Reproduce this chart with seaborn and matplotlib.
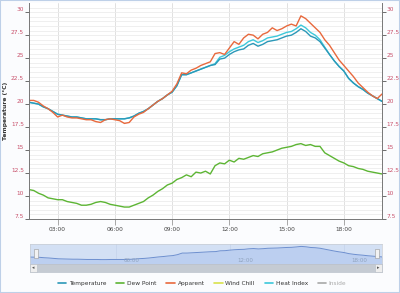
import numpy as np
import pandas as pd
import seaborn as sns
import matplotlib.pyplot as plt
from matplotlib.lines import Line2D
from matplotlib.patches import Rectangle

# 15-minute readings from 01:30 to 20:00
hours = np.arange(1.5, 20.01, 0.25)

temperature = [20.2, 20.1, 20.0, 19.7, 19.5, 19.2, 18.9, 18.8, 18.7, 18.6,
               18.6, 18.5, 18.4, 18.4, 18.4, 18.3, 18.3, 18.4, 18.4, 18.4,
               18.4, 18.5, 18.7, 19.0, 19.2, 19.5, 19.9, 20.3, 20.6, 21.0,
               21.3, 22.0, 23.2, 23.2, 23.4, 23.6, 23.8, 24.0, 24.2, 24.3,
               24.9, 25.0, 25.4, 25.7, 25.9, 26.0, 26.4, 26.6, 26.3, 26.5,
               26.8, 26.9, 27.0, 27.2, 27.4, 27.5, 27.8, 28.2, 27.9, 27.4,
               27.2, 26.8, 26.1, 25.4, 24.7, 24.1, 23.6, 22.8, 22.3, 21.9,
               21.6, 21.2, 20.9, 20.6, 20.3]

heat_index = [20.2, 20.1, 20.0, 19.7, 19.5, 19.2, 18.9, 18.8, 18.7, 18.6,
              18.6, 18.5, 18.4, 18.4, 18.4, 18.3, 18.3, 18.4, 18.4, 18.4,
              18.4, 18.5, 18.7, 19.0, 19.2, 19.5, 19.9, 20.3, 20.6, 21.0,
              21.3, 22.0, 23.2, 23.2, 23.4, 23.6, 23.8, 24.0, 24.2, 24.4,
              25.1, 25.3, 25.7, 26.0, 26.2, 26.4, 26.8, 27.0, 26.7, 26.9,
              27.2, 27.3, 27.4, 27.6, 27.8, 27.9, 28.2, 28.6, 28.3, 27.8,
              27.5, 27.0, 26.2, 25.4, 24.7, 24.1, 23.6, 22.8, 22.3, 21.9,
              21.6, 21.2, 20.9, 20.6, 20.3]

apparent = [20.4, 20.4, 20.2, 19.8, 19.5, 19.1, 18.6, 18.8, 18.6, 18.5,
            18.5, 18.4, 18.3, 18.3, 18.1, 18.0, 18.3, 18.4, 18.3, 18.2,
            17.9, 18.0, 18.6, 18.9, 19.1, 19.5, 19.9, 20.3, 20.6, 21.0,
            21.4, 22.2, 23.4, 23.3, 23.7, 23.9, 24.2, 24.4, 24.6, 25.5,
            25.6, 25.4, 26.1, 26.8, 26.5, 27.2, 27.6, 27.5, 27.1, 27.6,
            27.8, 28.3, 28.0, 28.2, 28.5, 28.7, 28.5, 29.6, 29.3, 28.8,
            28.3, 27.8, 27.0, 26.4, 25.6, 24.8, 24.2, 23.6, 23.0, 22.3,
            21.8, 21.3, 20.9, 20.6, 21.1]

dew_point = [10.7, 10.6, 10.3, 10.1, 9.8, 9.7, 9.6, 9.6, 9.4, 9.3,
             9.2, 9.0, 9.0, 9.1, 9.3, 9.4, 9.3, 9.1, 9.0, 8.9,
             8.8, 8.8, 9.0, 9.2, 9.4, 9.8, 10.1, 10.5, 10.8, 11.2,
             11.4, 11.8, 12.0, 12.3, 12.1, 12.6, 12.5, 12.7, 12.4, 13.3,
             13.6, 13.5, 13.9, 13.7, 14.1, 14.0, 14.2, 14.4, 14.3, 14.6,
             14.7, 14.8, 15.0, 15.2, 15.3, 15.4, 15.6, 15.7, 15.5, 15.6,
             15.4, 15.4, 14.7, 14.4, 14.1, 13.8, 13.6, 13.3, 13.2, 13.0,
             12.9, 12.7, 12.6, 12.5, 12.4]

time_ticks = [3, 6, 9, 12, 15, 18]
time_labels = ['03:00', '06:00', '09:00', '12:00', '15:00', '18:00']
nav_ticks = [6, 12, 18]
nav_labels = ['06:00', '12:00', '18:00']
temp_ticks = [7.5, 10, 12.5, 15, 17.5, 20, 22.5, 25, 27.5, 30]
temp_labels = ['7.5', '10', '12.5', '15', '17.5', '20', '22.5', '25', '27.5', '30']
legend_names = ['Temperature', 'Dew Point', 'Apparent', 'Wind Chill', 'Heat Index', 'Inside']

colors = {'Temperature': '#2b98b8', 'Dew Point': '#5db534', 'Apparent': '#e8693d',
          'Wind Chill': '#d9e24c', 'Heat Index': '#3cc8da', 'Inside': '#a8a8a8'}

df = pd.DataFrame({'hour': hours, 'Temperature': temperature, 'Heat Index': heat_index,
                   'Apparent': apparent, 'Dew Point': dew_point})

sns.set_style('white')
plt.rcParams['font.family'] = ['DejaVu Sans']

W, H = 400, 293
fig = plt.figure(figsize=(4, 2.93), dpi=100, facecolor='#fbfcfe')
fig.patches.append(Rectangle((0, 0), 1, 1, transform=fig.transFigure, fill=False,
                             edgecolor='#bed0e8', lw=1.5))


def box(x0, y0, x1, y1):
    return [x0 / W, 1 - y1 / H, (x1 - x0) / W, (y1 - y0) / H]


ax = fig.add_axes(box(29, 3, 382, 219))
ax.set_facecolor('white')
for name in ['Heat Index', 'Temperature', 'Apparent', 'Dew Point']:
    sns.lineplot(data=df, x='hour', y=name, ax=ax, color=colors[name], lw=1.0)

ax.set_xlim(1.5, 20.0)
ax.set_ylim(7.5, 31)
ax.set_xticks(time_ticks)
ax.set_xticklabels(time_labels)
ax.set_yticks(temp_ticks)
ax.set_yticklabels(temp_labels)
ax.set_yticks(np.arange(7.5, 31, 0.5), minor=True)
ax.grid(axis='y', which='both', color='#ececec', lw=0.6)
ax.grid(axis='x', which='major', color='#dcdcdc', lw=0.6)
ax.set_xlabel('')
ax.set_ylabel('Temperature (°C)', fontsize=4.3, fontweight='bold', color='#333333')
ax.yaxis.set_label_coords(-21 / 353, 0.5)
ax.tick_params(axis='y', which='major', left=True, right=True, labelleft=True, labelright=True,
               length=3, width=0.6, color='#555555', labelsize=4.2, labelcolor='#c8506a', pad=0.5)
ax.tick_params(axis='y', which='minor', left=False, right=False)
ax.tick_params(axis='x', which='major', bottom=True, length=4, width=0.6, color='#999999',
               labelsize=4.2, labelcolor='#444444', pad=2)
for lab in ax.get_yticklabels():
    lab.set_va('bottom')
ax.spines['top'].set_visible(False)
for s in ['left', 'right', 'bottom']:
    ax.spines[s].set_color('#777777')
    ax.spines[s].set_linewidth(0.7)

# navigator
nav = fig.add_axes(box(30, 244, 382, 264))
nav.set_facecolor('#d3e0f4')
nav.fill_between(hours, temperature, 15, color='#bccff0', lw=0)
nav.plot(hours, temperature, color='#6d8fcf', lw=0.7)
nav.set_xlim(1.5, 20.0)
nav.set_ylim(15, 30)
nav.set_xticks(nav_ticks)
nav.set_xticklabels([])
nav.set_yticks([])
nav.grid(axis='x', color='#c4d2ea', lw=0.5)
for t, lab in zip(nav_ticks, nav_labels):
    nav.text(t + 0.4, 15.8, lab, fontsize=4, color='#8fa2bd', va='bottom', ha='left')
for s in nav.spines.values():
    s.set_color('#c8ccd2')
    s.set_linewidth(0.5)
for hx in [34, 375]:
    fig.patches.append(Rectangle((hx / W, 1 - 258 / H), 4 / W, 9 / H, transform=fig.transFigure,
                                 facecolor='#f2f2f2', edgecolor='#999999', lw=0.4))

# scrollbar
fig.patches.append(Rectangle((30 / W, 1 - 272 / H), 352 / W, 8 / H, transform=fig.transFigure,
                             facecolor='#c5cbd3', edgecolor='#b5bcc6', lw=0.4))
for bx in [30, 375]:
    fig.patches.append(Rectangle((bx / W, 1 - 272 / H), 7 / W, 8 / H, transform=fig.transFigure,
                                 facecolor='#eeeeee', edgecolor='#b5bcc6', lw=0.4))
fig.text(33.5 / W, 1 - 268 / H, '◂', fontsize=3.5, ha='center', va='center', color='#555555')
fig.text(378.5 / W, 1 - 268 / H, '▸', fontsize=3.5, ha='center', va='center', color='#555555')

# legend
handles = [Line2D([0], [0], color=colors[n], lw=1.2) for n in legend_names]
fig.legend(handles, legend_names, loc='center', bbox_to_anchor=(202 / W, 1 - 283 / H), ncol=6,
           frameon=False, fontsize=4.2, handlelength=1.4, handletextpad=0.5, columnspacing=1.7,
           labelcolor=['#333333'] * 5 + ['#aaaaaa'])

fig.savefig('out.png', dpi=100, facecolor=fig.get_facecolor())
